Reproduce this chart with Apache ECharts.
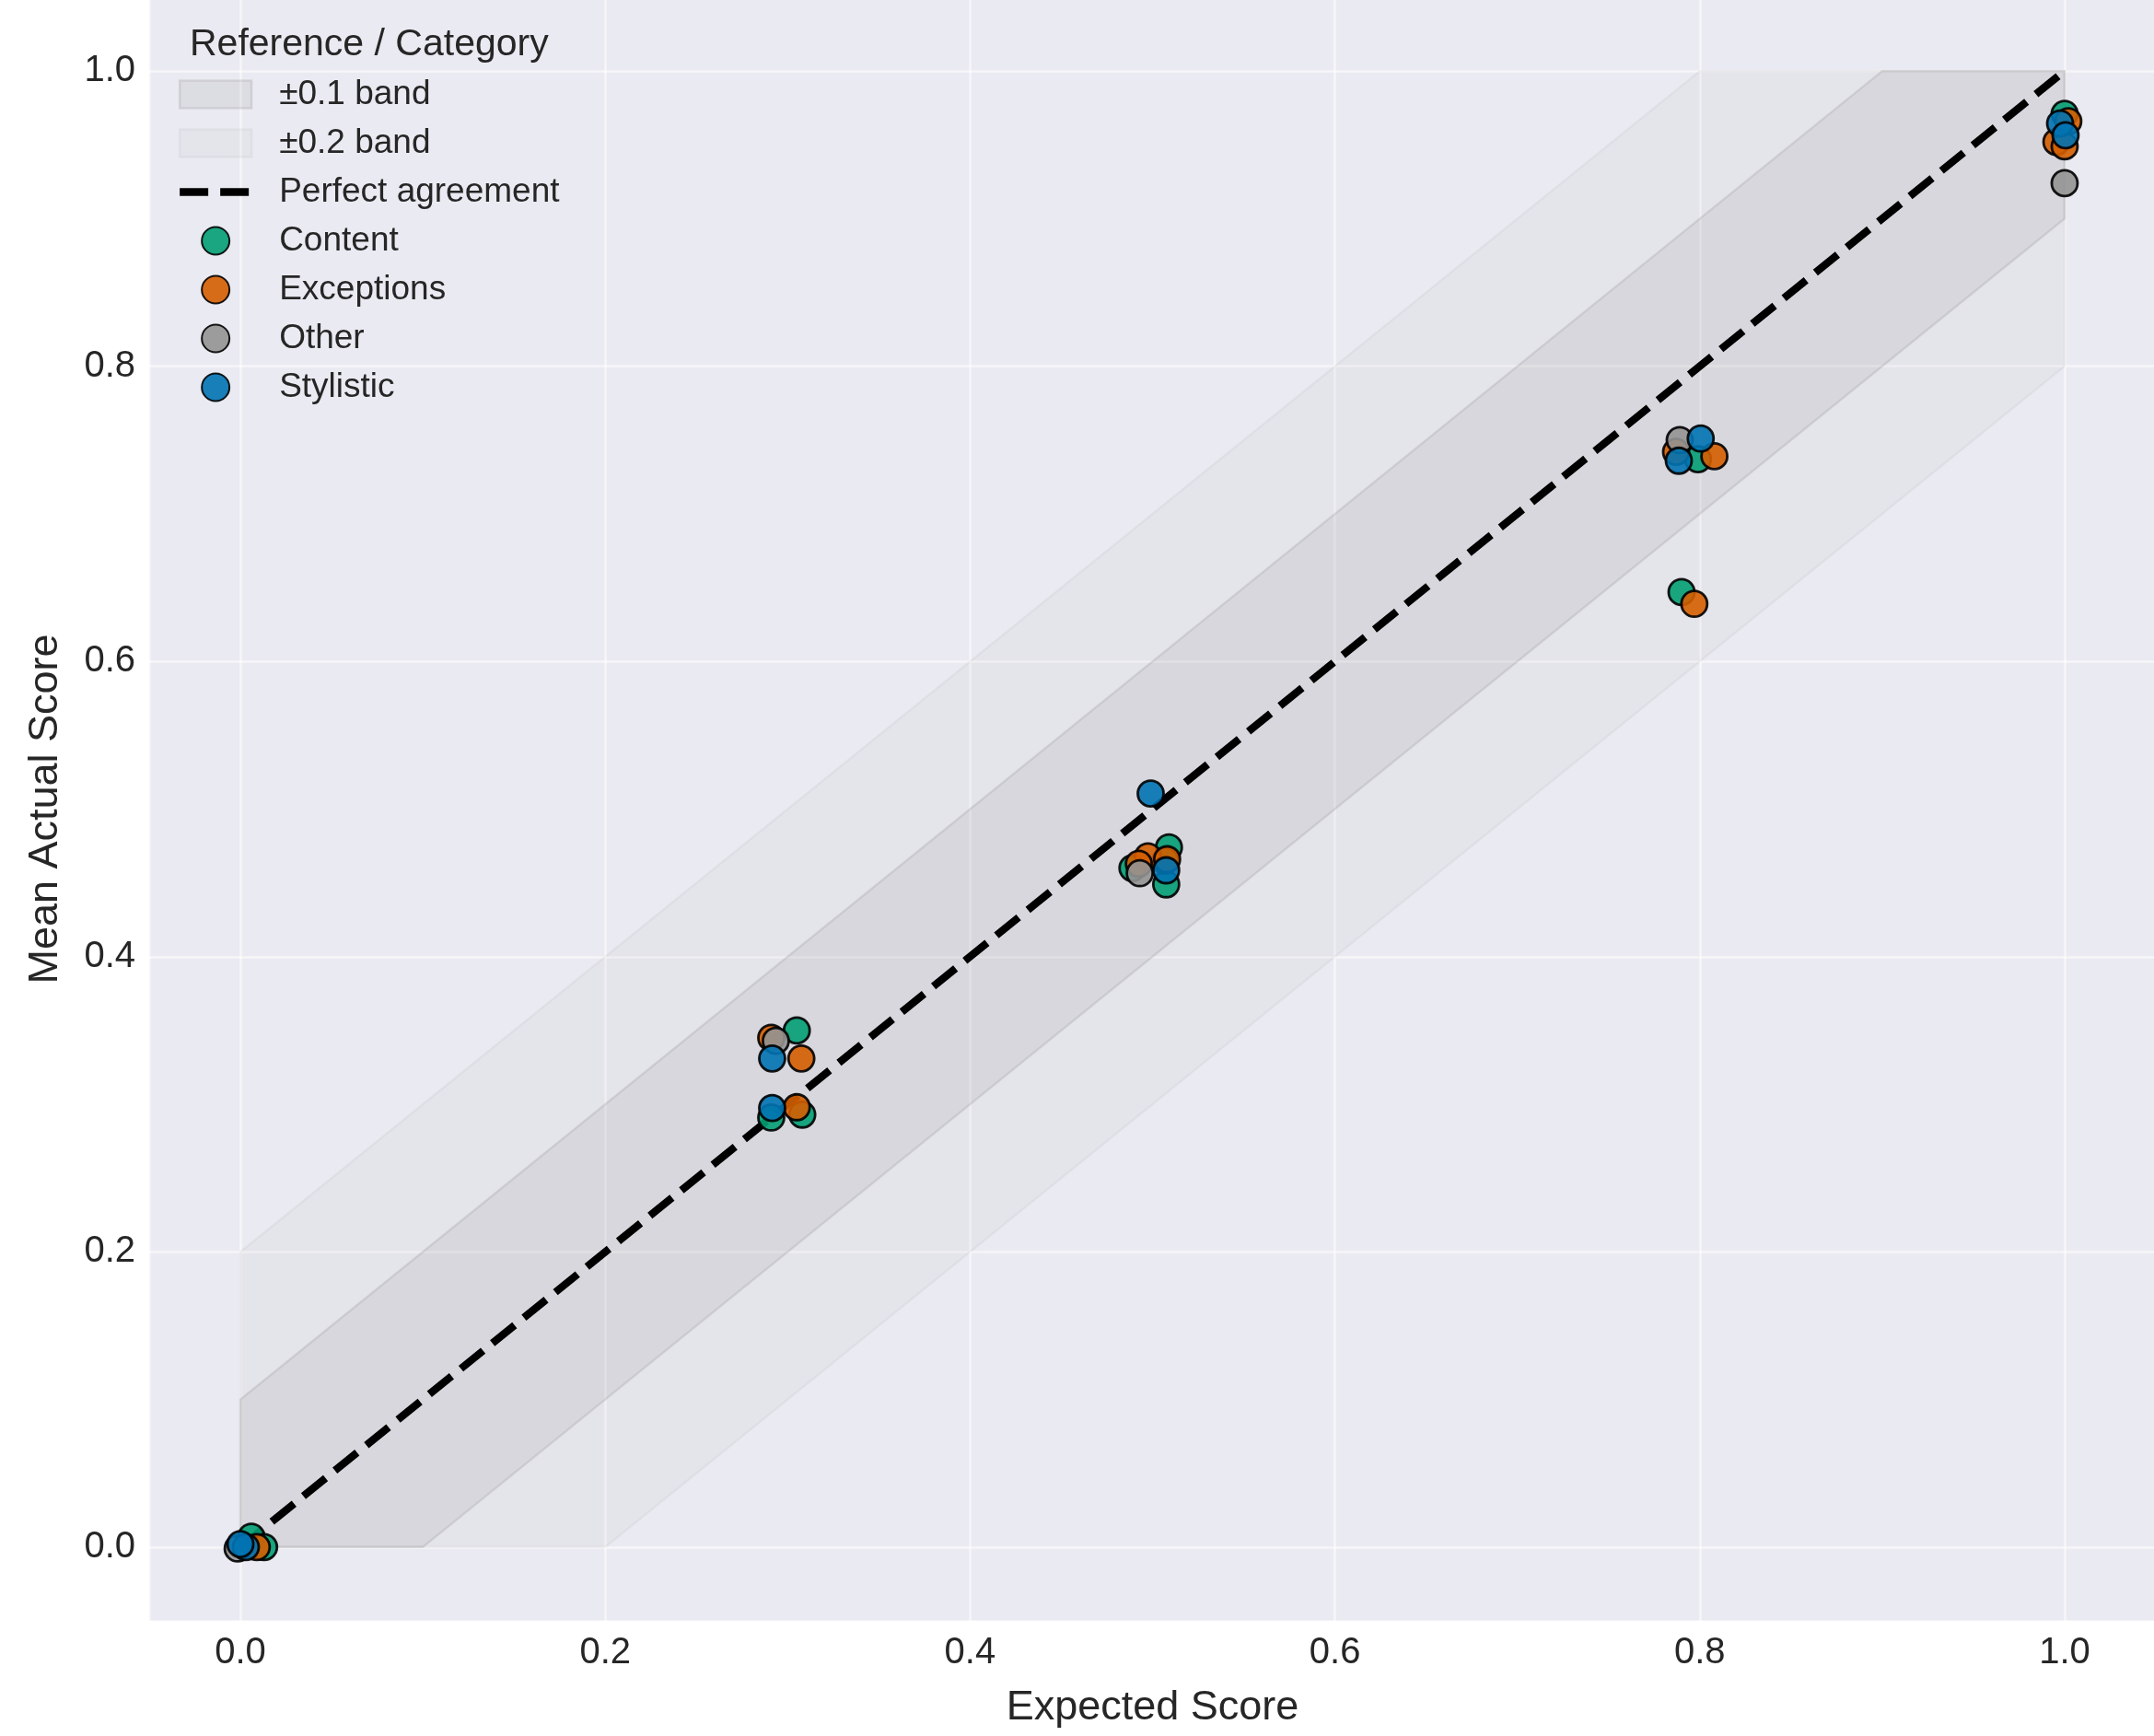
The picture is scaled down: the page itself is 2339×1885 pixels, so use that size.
<!DOCTYPE html>
<html>
<head>
<meta charset="utf-8">
<script src="https://cdn.jsdelivr.net/npm/echarts@6/dist/echarts.min.js"></script>
<style>
  html, body { margin: 0; padding: 0; background: #fff; }
  #main { width: 2339px; height: 1885px; }
</style>
</head>
<body>
<div id="main"></div>
<script>
// data
var categories = ['Content', 'Exceptions', 'Other', 'Stylistic'];
var catColors = ['#029E73', '#D55E00', '#949494', '#0173B2'];

// [expected score (with jitter), mean actual score]
var contentPts = [
  [0.006, 0.007], [0.013, 0.0],
  [0.291, 0.291], [0.305, 0.350], [0.308, 0.293],
  [0.489, 0.460], [0.509, 0.474], [0.5075, 0.449], [0.507, 0.465],
  [0.790, 0.647], [0.799, 0.737],
  [1.000, 0.971]
];
var exceptionsPts = [
  [0.009, 0.0],
  [0.291, 0.345], [0.3075, 0.331], [0.305, 0.298],
  [0.4975, 0.468], [0.508, 0.466], [0.4925, 0.463],
  [0.787, 0.742], [0.797, 0.639], [0.808, 0.739],
  [1.002, 0.966], [0.9955, 0.952], [1.000, 0.949]
];
var otherPts = [
  [-0.0015, -0.001],
  [0.2935, 0.343],
  [0.493, 0.4565],
  [0.789, 0.750],
  [1.000, 0.924]
];
var stylisticPts = [
  [0.003, 0.0], [0.0, 0.002],
  [0.2915, 0.331], [0.2915, 0.2975],
  [0.499, 0.5105], [0.5075, 0.4585],
  [0.8005, 0.751], [0.7885, 0.736],
  [0.9975, 0.9645], [1.0005, 0.9565]
];
var seriesPts = [contentPts, exceptionsPts, otherPts, stylisticPts];

// reference band outlines (upper edge then lower edge, clipped to [0,1])
var band1Pts = [[0, 0], [0, 0.1], [0.9, 1], [1, 1], [1, 0.9], [0.1, 0]];
var band2Pts = [[0, 0], [0, 0.2], [0.8, 1], [1, 1], [1, 0.8], [0.2, 0]];
var refLine = [[0, 0], [1, 1]];

var myChart = echarts.init(document.getElementById('main'), null, { renderer: 'canvas' });

var FONT = 'Liberation Sans, Arial, Helvetica, sans-serif';
var TXT = '#262626';

var band1Fill = 'rgba(128,128,128,0.13)';
var band1Edge = 'rgba(128,128,128,0.2)';
var band2Fill = 'rgba(128,128,128,0.06)';
var band2Edge = 'rgba(128,128,128,0.08)';

function bandSeries(name, pts, fill, edge) {
  return {
    name: name,
    type: 'custom',
    data: pts,
    encode: { x: 0, y: 1 },
    itemStyle: { color: fill, borderColor: edge },
    renderItem: function (params, api) {
      if (params.dataIndex !== 0) return null;
      var coords = [];
      for (var i = 0; i < pts.length; i++) {
        coords.push(api.coord(pts[i]));
      }
      return {
        type: 'polygon',
        shape: { points: coords },
        style: { fill: fill, stroke: edge, lineWidth: 2.5 }
      };
    },
    z: 1,
    silent: true
  };
}

var series = [
  bandSeries('±0.2 band', band2Pts, band2Fill, band2Edge),
  bandSeries('±0.1 band', band1Pts, band1Fill, band1Edge),
  {
    name: 'Perfect agreement',
    type: 'line',
    data: refLine,
    symbol: 'none',
    lineStyle: { color: '#000', width: 8.3, type: [31, 13], cap: 'butt' },
    itemStyle: { color: '#000' },
    z: 3
  }
];

for (var i = 0; i < categories.length; i++) {
  series.push({
    name: categories[i],
    type: 'scatter',
    data: seriesPts[i],
    symbol: 'circle',
    symbolSize: 28,
    itemStyle: {
      color: catColors[i],
      borderColor: '#000',
      borderWidth: 2.8,
      opacity: 0.9
    },
    z: 4 + i
  });
}

var option = {
  animation: false,
  backgroundColor: '#ffffff',
  textStyle: { fontFamily: FONT },
  title: {
    text: 'Reference / Category',
    left: 206,
    top: 28,
    padding: 0,
    textStyle: { fontFamily: FONT, fontSize: 41, fontWeight: 'normal', color: TXT }
  },
  legend: {
    orient: 'vertical',
    left: 191,
    top: 84,
    padding: 0,
    itemWidth: 78,
    itemHeight: 30,
    itemGap: 16,
    selectedMode: false,
    textStyle: {
      fontFamily: FONT, fontSize: 37, color: TXT,
      lineHeight: 37, padding: [0, 0, 0, 25]
    },
    data: [
      { name: '±0.1 band', icon: 'rect', itemStyle: { color: band1Fill, borderColor: band1Edge, borderWidth: 2.5 } },
      { name: '±0.2 band', icon: 'rect', itemStyle: { color: band2Fill, borderColor: band2Edge, borderWidth: 2.5 } },
      {
        name: 'Perfect agreement',
        itemStyle: { color: 'rgba(0,0,0,0)', borderWidth: 0, opacity: 0 },
        lineStyle: { color: '#000', width: 8.3, type: [31, 13], cap: 'butt' }
      },
      { name: 'Content', icon: 'circle' },
      { name: 'Exceptions', icon: 'circle' },
      { name: 'Other', icon: 'circle' },
      { name: 'Stylistic', icon: 'circle' }
    ]
  },
  grid: {
    left: 162,
    top: -3,
    width: 2179,
    height: 1763,
    show: true,
    backgroundColor: '#EAEAF2',
    borderWidth: 0,
    containLabel: false,
    outerBoundsMode: 'none'
  },
  xAxis: {
    type: 'value',
    min: -0.05,
    max: 1.05,
    splitNumber: 5,
    name: 'Expected Score',
    nameLocation: 'middle',
    nameGap: 72,
    nameTextStyle: { fontFamily: FONT, fontSize: 45, color: TXT },
    axisLine: { show: false },
    axisTick: { show: false },
    axisLabel: {
      showMinLabel: false,
      showMaxLabel: false,
      margin: 15,
      fontFamily: FONT, fontSize: 40, color: TXT,
      formatter: function (v) { return v.toFixed(1); }
    },
    splitLine: { show: true, lineStyle: { color: 'rgba(255,255,255,0.55)', width: 2.5 } }
  },
  yAxis: {
    type: 'value',
    min: -0.05,
    max: 1.05,
    splitNumber: 5,
    name: 'Mean Actual Score',
    nameLocation: 'middle',
    nameGap: 90,
    nameTextStyle: { fontFamily: FONT, fontSize: 45, color: TXT },
    axisLine: { show: false },
    axisTick: { show: false },
    axisLabel: {
      showMinLabel: false,
      showMaxLabel: false,
      margin: 15,
      fontFamily: FONT, fontSize: 40, color: TXT,
      formatter: function (v) { return v.toFixed(1); }
    },
    splitLine: { show: true, lineStyle: { color: 'rgba(255,255,255,0.55)', width: 2.5 } }
  },
  series: series
};

myChart.setOption(option);
</script>
</body>
</html>
